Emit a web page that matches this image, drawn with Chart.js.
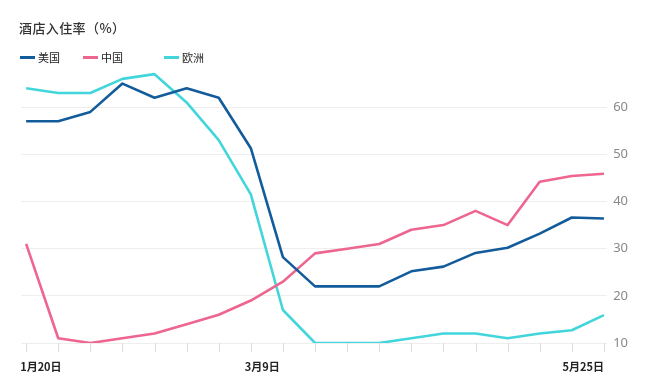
<!DOCTYPE html>
<html lang="zh">
<head>
    <meta charset="UTF-8">
    <title>酒店入住率</title>
    <style>
        * { margin: 0; padding: 0; box-sizing: border-box; }
        body { background: #fff; font-family: "Noto Sans CJK SC", "Noto Sans", sans-serif; }
        #wrap { position: relative; width: 661px; height: 390px; }
        #title { position: absolute; left: 19px; top: 18px; font-size: 13px; color: #333; font-weight: 500; letter-spacing: 0.4px; }
        .leg { position: absolute; top: 49px; font-size: 11px; color: #222; display: flex; align-items: center; }
        .leg span.sw { display: inline-block; width: 15px; height: 3px; margin-right: 3px; }
    </style>
</head>
<body>
<div id="wrap">
    <canvas id="chart" width="661" height="390"></canvas>
    <div id="title">酒店入住率（%）</div>
    <div class="leg" style="left:20px"><span class="sw" style="background:#135c9b"></span>美国</div>
    <div class="leg" style="left:83px"><span class="sw" style="background:#ee6590"></span>中国</div>
    <div class="leg" style="left:164px"><span class="sw" style="background:#42d6dc"></span>欧洲</div>
</div>

<script src="https://cdn.jsdelivr.net/npm/chart.js"></script>
<script>
    // Weekly dates
    const weeks = ["1月20日", "1月27日", "2月3日", "2月10日", "2月17日", "2月24日", "3月2日",
                   "3月9日", "3月16日", "3月23日", "3月30日", "4月6日", "4月13日", "4月20日",
                   "4月27日", "5月4日", "5月11日", "5月18日", "5月25日"];
    const shownLabels = [0, 7, 18];

    const usa    = [57, 57, 59, 65, 62, 64, 62, 51.3, 28.2, 22, 22, 22, 25.2, 26.2, 29.1, 30.2, 33.2, 36.6, 36.4];
    const china  = [31, 11, 10, 11, 12, 14, 16, 19, 23, 29, 30, 31, 34, 35, 38, 35, 44.2, 45.4, 45.9];
    const europe = [64, 63, 63, 66, 67, 61, 53, 41.5, 17, 10, 10, 10, 11, 12, 12, 11, 12, 12.7, 15.9];

    const yTicks = [10, 20, 30, 40, 50, 60];

    const toPts = arr => arr.map((v, i) => ({ x: i, y: v }));

    // x-axis ticks and labels
    const xAxisPlugin = {
        id: "xAxisPlugin",
        afterDraw(chart) {
            const ctx = chart.ctx;
            const xs = chart.scales.x;
            const bottom = chart.chartArea.bottom;
            ctx.save();
            ctx.strokeStyle = "#dddddd";
            ctx.lineWidth = 1;
            weeks.forEach((w, i) => {
                const px = Math.round(xs.getPixelForValue(i)) + 0.5;
                ctx.beginPath();
                ctx.moveTo(px, bottom);
                ctx.lineTo(px, bottom + 9);
                ctx.stroke();
            });
            ctx.fillStyle = "#222";
            ctx.font = "bold 11px 'Noto Sans CJK SC', sans-serif";
            ctx.textBaseline = "middle";
            shownLabels.forEach(i => {
                const px = xs.getPixelForValue(i);
                const wdt = ctx.measureText(weeks[i]).width;
                let left = px - 6;
                if (i === weeks.length - 1) left = px - wdt;
                ctx.textAlign = "left";
                ctx.fillText(weeks[i], left, bottom + 24);
            });
            ctx.restore();
        }
    };

    new Chart(document.getElementById("chart"), {
        type: "line",
        data: {
            datasets: [
                { label: "美国", data: toPts(usa), borderColor: "#135c9b" },
                { label: "中国", data: toPts(china), borderColor: "#ee6590" },
                { label: "欧洲", data: toPts(europe), borderColor: "#42d6dc" }
            ]
        },
        options: {
            responsive: false,
            animation: false,
            layout: { padding: { top: 60, bottom: 47, left: 21, right: 27 } },
            elements: {
                line: { borderWidth: 2.6, tension: 0, borderJoinStyle: "round" },
                point: { radius: 0 }
            },
            plugins: { legend: { display: false }, title: { display: false }, tooltip: { enabled: false } },
            scales: {
                x: {
                    type: "linear",
                    display: false,
                    min: -0.16,
                    max: 18.1
                },
                y: {
                    position: "right",
                    min: 10,
                    max: 70,
                    afterBuildTicks: s => { s.ticks = yTicks.map(v => ({ value: v })); },
                    grid: { color: "#eeeeee", drawTicks: false },
                    border: { display: false },
                    ticks: {
                        color: "#888",
                        padding: 6,
                        font: { family: "'Noto Sans', sans-serif", size: 13 }
                    }
                }
            }
        },
        plugins: [xAxisPlugin]
    });
</script>
</body>
</html>
